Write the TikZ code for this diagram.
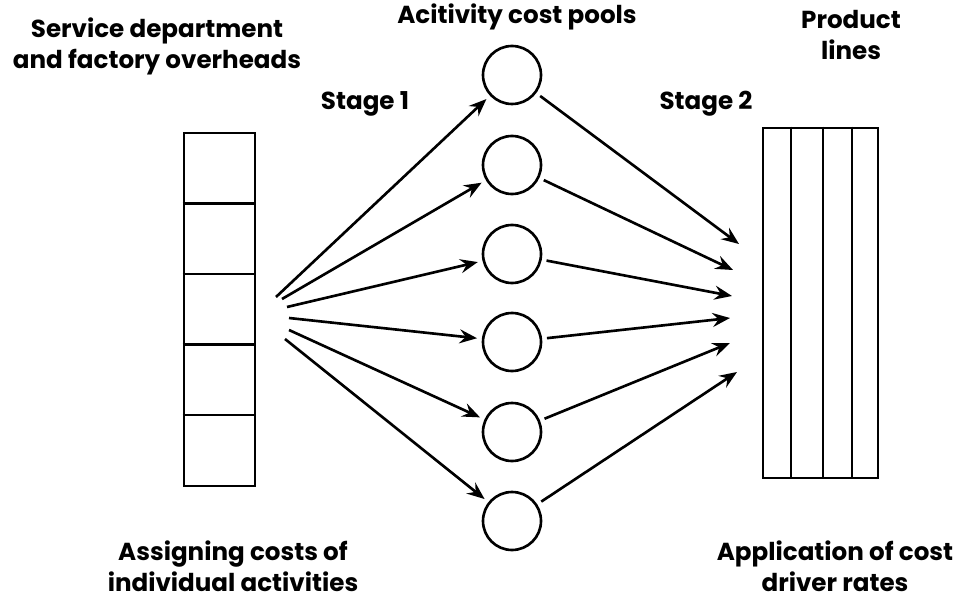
\documentclass[tikz,border=0pt]{standalone}
\usepackage{fontspec}
\setmainfont{Poppins}
\usetikzlibrary{arrows.meta}
\tikzset{
   heading/.style={font=\bfseries\fontsize{14}{17.6}\selectfont, align=center},
   pool/.style={draw, circle, minimum size=1.16cm, inner sep=0pt, outer sep=3.5pt},
   flow/.style={-{Stealth[length=10pt,width=8pt,inset=3.5pt]}},
   bar/.style={draw, inner sep=0pt}
}

\begin{document}
\begin{tikzpicture}[x=0.02cm, y=-0.02cm, line width=1.5pt]
\useasboundingbox (0,0) rectangle (961,598);
% labels
\node[heading] (overheads) at (157,46) {Service department\\and factory overheads};
\node[heading] (pooltitle) at (517,17) {Acitivity cost pools};
\node[heading] (stageone) at (365,104) {Stage 1};
\node[heading] (stagetwo) at (706,104) {Stage 2};
\node[heading] (products) at (851,35) {Product\\lines};
\node[heading] (assigning) at (233,566) {Assigning costs of\\individual activities};
\node[heading] (application) at (835,566) {Application of cost\\driver rates};
% left column of cost cells
\node[bar, minimum width=1.42cm, minimum height=7.06cm] (costs) at (219.5,309.5) {};
\foreach \y in {203.5,274,344.5,415}
  \draw (costs.west |- 0,\y) -- (costs.east |- 0,\y);
% right block of product lines
\node[bar, minimum width=2.3cm, minimum height=7cm] (lines) at (820.5,303) {};
\foreach \x in {791,823,852}
  \draw (lines.north -| \x,0) -- (lines.south -| \x,0);
% pools
\foreach \i/\y in {1/75,2/165,3/254,4/342,5/432,6/521}
  \node[pool] (p\i) at (512,\y) {};
% stage 1
\coordinate (s1) at (276,297);
\coordinate (s2) at (282,299);
\coordinate (s3) at (287,307);
\coordinate (s4) at (289,318);
\coordinate (s5) at (289,330);
\coordinate (s6) at (285,339);
\foreach \i in {1,...,6}
  \draw[flow] (s\i) -- (p\i);
% stage 2
\coordinate (e1) at (739,244);
\coordinate (e2) at (733,270);
\coordinate (e3) at (732,296);
\coordinate (e4) at (730,318);
\coordinate (e5) at (730,343);
\coordinate (e6) at (737,372);
\foreach \i in {1,...,6}
  \draw[flow] (p\i) -- (e\i);
\end{tikzpicture}
\end{document}
